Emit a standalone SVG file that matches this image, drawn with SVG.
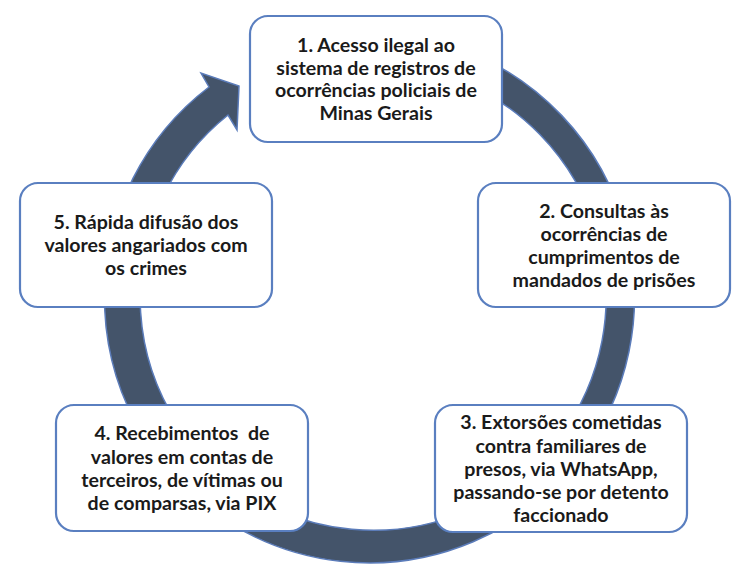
<svg xmlns="http://www.w3.org/2000/svg" width="745" height="575" viewBox="0 0 745 575">
<style>
.box{fill:#ffffff;stroke:#5a7fc0;stroke-width:2.2}
.t{font-family:Lato,"Liberation Sans",sans-serif;font-weight:bold;font-size:19.6px;fill:#1a1a1a;text-anchor:middle}
.ring{fill:#44546a;stroke:#5b7cba;stroke-width:1.5;stroke-linejoin:miter}
</style>
<rect width="745" height="575" fill="#ffffff"/>
<g id="connectors">
<path class="ring" d="M329,36 A265,265 0 1 1 209,87 L201,73 L239,86 L237,130 L228,115 A233,233 0 1 0 334.5,67.5 Z"/>
</g>
<g id="node1">
<rect class="box" x="250" y="16" width="252" height="126" rx="18"/>
<text class="t" x="376" y="52">1. Acesso ilegal ao</text>
<text class="t" x="376" y="74.5">sistema de registros de</text>
<text class="t" x="376" y="97">ocorrências policiais de</text>
<text class="t" x="376" y="120">Minas Gerais</text>
</g>
<g id="node2">
<rect class="box" x="478" y="183" width="252" height="124" rx="18"/>
<text class="t" x="604" y="217.5">2. Consultas às</text>
<text class="t" x="604" y="240.5">ocorrências de</text>
<text class="t" x="604" y="263.5">cumprimentos de</text>
<text class="t" x="604" y="286.5">mandados de prisões</text>
</g>
<g id="node3">
<rect class="box" x="435" y="405" width="252" height="127" rx="18"/>
<text class="t" x="561" y="429">3. Extorsões cometidas</text>
<text class="t" x="561" y="452.5">contra familiares de</text>
<text class="t" x="561" y="476">presos, via WhatsApp,</text>
<text class="t" x="561" y="499">passando-se por detento</text>
<text class="t" x="561" y="522">faccionado</text>
</g>
<g id="node4">
<rect class="box" x="56" y="405" width="252" height="126" rx="18"/>
<text class="t" x="182" y="440" xml:space="preserve">4. Recebimentos  de</text>
<text class="t" x="182" y="463.5">valores em contas de</text>
<text class="t" x="182" y="486.5">terceiros, de vítimas ou</text>
<text class="t" x="182" y="510">de comparsas, via PIX</text>
</g>
<g id="node5">
<rect class="box" x="20" y="183" width="252" height="124" rx="18"/>
<text class="t" x="146" y="229">5. Rápida difusão dos</text>
<text class="t" x="146" y="252">valores angariados com</text>
<text class="t" x="146" y="275">os crimes</text>
</g>
</svg>
